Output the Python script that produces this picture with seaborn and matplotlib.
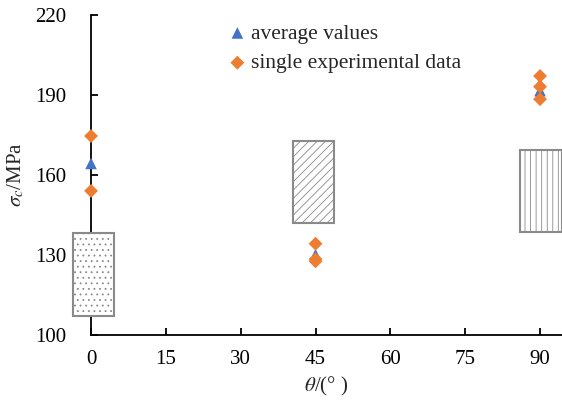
import numpy as np
import pandas as pd
import matplotlib
matplotlib.use("Agg")
import matplotlib.pyplot as plt
import seaborn as sns

# data
angle_single = [0, 0, 45, 45, 45, 90, 90, 90]
sigma_single = [174.6, 154.0, 134.2, 127.6, 128.4, 197.1, 193.1, 188.4]
angle_avg = [0, 45, 90]
sigma_avg = [164.3, 130.1, 191.6]

# shaded bands (range of another dataset)
band_left = [-3.6, 40.4, 86.0]
band_right = [4.6, 48.7, 94.3]
band_low = [107.1, 142.1, 138.4]
band_high = [138.3, 172.9, 169.4]
band_hatch = ['...', '////', '|||']

sns.set_style("ticks")
plt.rcParams['font.family'] = ['Liberation Serif', 'DejaVu Serif']
plt.rcParams['mathtext.fontset'] = 'stix'
plt.rcParams['hatch.linewidth'] = 0.6
plt.rcParams['hatch.color'] = '#a8a8a8'

fig = plt.figure(figsize=(5.62, 4.03), dpi=100)
ax = fig.add_axes([0.162, 0.169, 0.838, 0.794])

left = np.array(band_left)
right = np.array(band_right)
low = np.array(band_low)
high = np.array(band_high)
for i in range(len(left)):
    ax.bar((left[i] + right[i]) / 2, high[i] - low[i], bottom=low[i],
           width=right[i] - left[i], color='white', edgecolor='#8a8a8a',
           linewidth=1.5, hatch=band_hatch[i], clip_on=False, zorder=3)

avg = pd.DataFrame({'angle': angle_avg, 'sigma': sigma_avg})
single = pd.DataFrame({'angle': angle_single, 'sigma': sigma_single})
sns.scatterplot(data=avg, x='angle', y='sigma', marker='^', s=70,
                color='#4472C4', edgecolor='none', label='average values',
                ax=ax, zorder=4, clip_on=False)
sns.scatterplot(data=single, x='angle', y='sigma', marker='D', s=50,
                color='#ED7D31', edgecolor='none',
                label='single experimental data', ax=ax, zorder=5,
                clip_on=False)

ax.set_xlim(0, 94.4)
ax.set_ylim(100, 220)
ax.set_xticks(np.arange(0, 91, 15))
ax.set_yticks(np.arange(100, 221, 30))
ax.tick_params(direction='in', length=5, width=1.3, labelsize=15,
               colors='black')
ax.tick_params(axis='y', pad=18)
ax.tick_params(axis='x', pad=11)
sns.despine(ax=ax)
for s in ['left', 'bottom']:
    ax.spines[s].set_linewidth(1.3)
    ax.spines[s].set_color('black')

ax.set_xlabel(r'$\theta$/(° )', fontsize=15, labelpad=4)
ax.set_ylabel(r'$\sigma_c$/MPa', fontsize=15, labelpad=6)

ax.legend(loc='upper left', bbox_to_anchor=(0.265, 1.0), frameon=False,
          fontsize=15.5, handletextpad=0.05, labelspacing=0.45,
          borderaxespad=0, handlelength=1.2)

fig.savefig('out.png', dpi=100)
